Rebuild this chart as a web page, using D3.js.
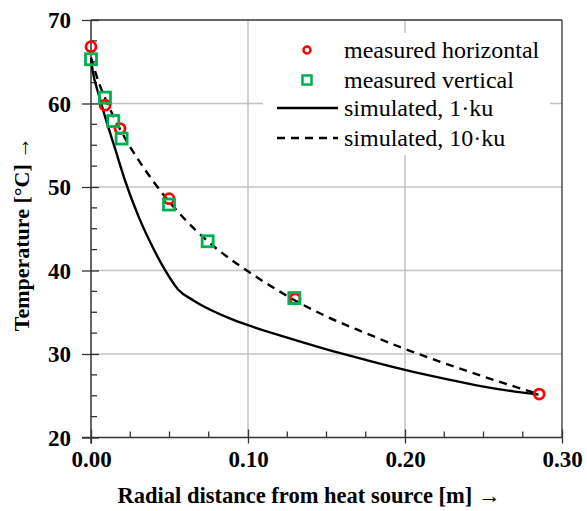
<!DOCTYPE html>
<html><head><meta charset="utf-8">
<script src="https://cdn.jsdelivr.net/npm/d3@7"></script>
<style>
body{margin:0;background:#fff;}
svg text{font-family:"Liberation Serif","Times New Roman",Times,"DejaVu Serif",serif !important;}
</style></head>
<body><svg id="c" width="587" height="511" font-family="Liberation Serif, Times New Roman, serif"></svg>
<script>
// Data
const measHorizontal = [[0,66.8],[0.009,59.8],[0.0185,57.0],[0.0497,48.6],[0.13,36.6],[0.2855,25.2]];
const measVertical = [[0,65.3],[0.0089,60.7],[0.0142,57.9],[0.0195,55.8],[0.0497,47.9],[0.0743,43.5],[0.1295,36.7]];
const sim1ku = [[0,65.3],[0.001,64.0],[0.005,61.0],[0.009,58.4],[0.015,54.8],[0.022,50.6],[0.03,46.6],[0.039,42.9],[0.047,40.1],[0.0556,37.7],[0.065,36.45],[0.076,35.3],[0.088,34.3],[0.1,33.45],[0.125,31.95],[0.15,30.55],[0.175,29.3],[0.2,28.1],[0.225,27.05],[0.25,26.1],[0.27,25.5],[0.285,25.15]];
const sim10ku = [[0,65.5],[0.005,62.5],[0.01,60.2],[0.015,58.2],[0.02,56.4],[0.03,53.3],[0.04,50.6],[0.05,48.2],[0.06,46.1],[0.075,43.4],[0.09,41.2],[0.1,39.9],[0.12,37.5],[0.13,36.4],[0.15,34.5],[0.175,32.5],[0.2,30.6],[0.225,28.9],[0.25,27.3],[0.285,25.2]];
const xTicks = [0,0.1,0.2,0.3];
const yTicks = [20,30,40,50,60,70];
const legendLabels = ["measured horizontal","measured vertical","simulated, 1\u00b7ku","simulated, 10\u00b7ku"];
const xTitle = "Radial distance from heat source [m] \u2192";
const yTitle = "Temperature [\u00b0C] \u2192";

const FONT = "Liberation Serif, Times New Roman, serif";
const svg = d3.select("#c");
const L=91,R=562,T=20,B=437.5;
const x = d3.scaleLinear().domain([0,0.3]).range([L,R]);
const y = d3.scaleLinear().domain([20,70]).range([B,T]);
const gridC="#c3c3c3", axC="#333";

// gridlines
svg.append("g").selectAll("line").data([0.1,0.2]).join("line")
 .attr("x1",d=>x(d)).attr("x2",d=>x(d)).attr("y1",T).attr("y2",B)
 .attr("stroke",gridC).attr("stroke-width",1.5);
svg.append("g").selectAll("line").data([30,40,50,60]).join("line")
 .attr("x1",L).attr("x2",R).attr("y1",d=>y(d)).attr("y2",d=>y(d))
 .attr("stroke",gridC).attr("stroke-width",1.5);

// frame top/right
svg.append("line").attr("x1",L).attr("x2",R).attr("y1",T).attr("y2",T).attr("stroke",axC).attr("stroke-width",1.3);
svg.append("line").attr("x1",R).attr("x2",R).attr("y1",T).attr("y2",B).attr("stroke",axC).attr("stroke-width",1.3);

// minor ticks
const xMinor = d3.range(0.025,0.3,0.025).filter(v=>Math.abs(v/0.1-Math.round(v/0.1))>0.01);
svg.append("g").selectAll("line").data(xMinor).join("line")
 .attr("x1",d=>x(d)).attr("x2",d=>x(d)).attr("y1",B).attr("y2",B-6)
 .attr("stroke",axC).attr("stroke-width",1.3);
const yMinor = d3.range(22.5,70,2.5).filter(v=>v%10!==0);
svg.append("g").selectAll("line").data(yMinor).join("line")
 .attr("x1",L).attr("x2",L+6).attr("y1",d=>y(d)).attr("y2",d=>y(d))
 .attr("stroke",axC).attr("stroke-width",1.3);

// axes
const xAxis = d3.axisBottom(x).tickValues(xTicks).tickFormat(d3.format(".2f")).tickSize(6).tickSizeOuter(0);
const gx = svg.append("g").attr("transform",`translate(0,${B})`).call(xAxis).attr("font-family",FONT);
gx.select(".domain").remove();
gx.selectAll(".tick line").attr("y1",-8).attr("y2",6).attr("stroke",axC).attr("stroke-width",1.3);
gx.selectAll(".tick text").attr("y",13).attr("dy","0.71em").attr("font-weight","bold").attr("font-size",23).attr("fill","#000");
svg.append("line").attr("x1",L-9).attr("x2",R).attr("y1",B).attr("y2",B).attr("stroke",axC).attr("stroke-width",1.5);

const yAxis = d3.axisLeft(y).tickValues(yTicks).tickSize(9).tickSizeOuter(0);
const gy = svg.append("g").attr("transform",`translate(${L},0)`).call(yAxis).attr("font-family",FONT);
gy.select(".domain").remove();
gy.selectAll(".tick line").attr("x1",-9).attr("x2",8).attr("stroke",axC).attr("stroke-width",1.3);
gy.selectAll(".tick text").attr("x",-20).attr("dy","0.34em").attr("font-weight","bold").attr("font-size",23).attr("fill","#000");
svg.append("line").attr("x1",L).attr("x2",L).attr("y1",T).attr("y2",B+6).attr("stroke",axC).attr("stroke-width",1.5);

// titles
svg.append("text").attr("x",309).attr("y",503).attr("text-anchor","middle")
 .attr("font-weight","bold").attr("font-size",22.5).text(xTitle);
svg.append("text").attr("transform","translate(29,234) rotate(-90)").attr("text-anchor","middle")
 .attr("font-weight","bold").attr("font-size",22).text(yTitle);

// lines
const line = d3.line().x(d=>x(d[0])).y(d=>y(d[1])).curve(d3.curveMonotoneX);
svg.append("path").datum(sim1ku).attr("d",line).attr("fill","none").attr("stroke","#000").attr("stroke-width",2.4);
svg.append("path").datum(sim10ku).attr("d",line).attr("fill","none").attr("stroke","#000").attr("stroke-width",2.4).attr("stroke-dasharray","8,6");

// markers
const red="#ff0000", green="#00b050";
svg.append("g").selectAll("circle").data(measHorizontal).join("circle")
 .attr("cx",d=>x(d[0])).attr("cy",d=>y(d[1])).attr("r",5).attr("fill","none").attr("stroke",red).attr("stroke-width",2.8);
svg.append("g").selectAll("rect").data(measVertical).join("rect")
 .attr("x",d=>x(d[0])-5.5).attr("y",d=>y(d[1])-5.5).attr("width",11).attr("height",11).attr("fill","none").attr("stroke",green).attr("stroke-width",2.8);

// legend
svg.append("rect").attr("x",263).attr("y",33).attr("width",287).attr("height",122).attr("fill","#fff");
const ly=[50,80,108,138];
const lg = svg.append("g");
lg.append("circle").attr("cx",307).attr("cy",ly[0]).attr("r",3.5).attr("fill","none").attr("stroke",red).attr("stroke-width",2.5);
lg.append("rect").attr("x",302.5).attr("y",ly[1]-4.5).attr("width",9).attr("height",9).attr("fill","none").attr("stroke",green).attr("stroke-width",2.5);
lg.append("line").attr("x1",277).attr("x2",338).attr("y1",ly[2]).attr("y2",ly[2]).attr("stroke","#000").attr("stroke-width",2.4);
lg.append("line").attr("x1",277).attr("x2",338).attr("y1",ly[3]).attr("y2",ly[3]).attr("stroke","#000").attr("stroke-width",2.4).attr("stroke-dasharray","8,6");
lg.selectAll("text").data(legendLabels).join("text")
 .attr("x",344).attr("y",(d,i)=>ly[i]).attr("dy","0.33em").attr("font-size",24).attr("fill","#000").text(d=>d);
</script></body></html>
